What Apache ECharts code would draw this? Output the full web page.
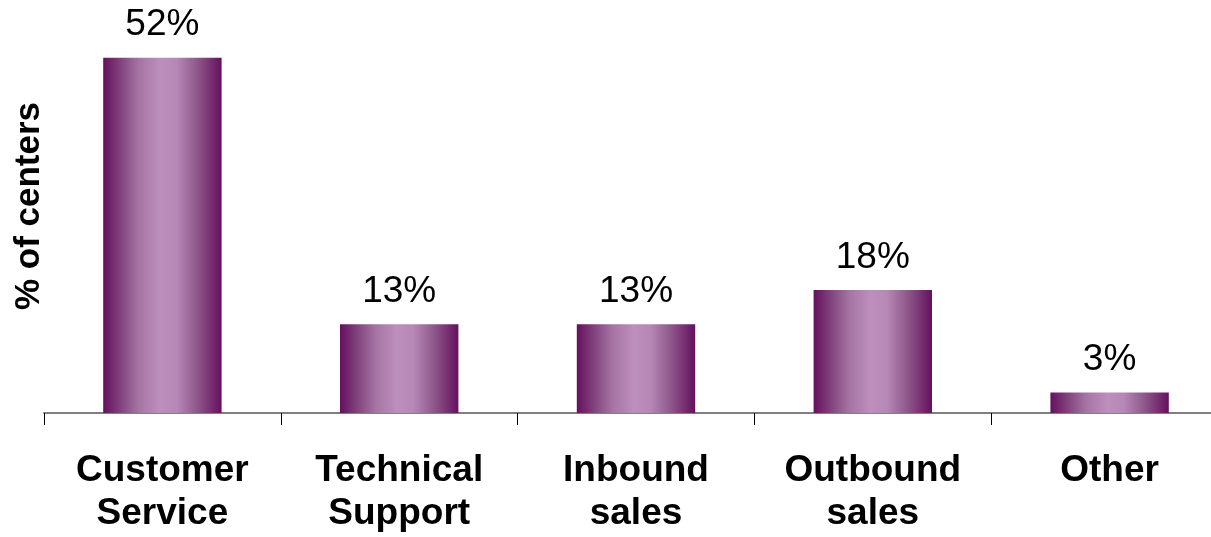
<!DOCTYPE html>
<html>
<head>
<meta charset="utf-8">
<style>
  html, body { margin: 0; padding: 0; background: #ffffff; overflow: hidden; }
  /* plot area runs a little past the right edge of the window */
  #chart { width: 1228px; height: 537px; }
</style>
<script src="https://cdn.jsdelivr.net/npm/echarts@6/dist/echarts.min.js"></script>
</head>
<body>
<div id="chart"></div>
<script>
// Call center types
const categories = ['Customer\nService', 'Technical\nSupport', 'Inbound\nsales', 'Outbound\nsales', 'Other'];
const shareOfCenters = [52, 13, 13, 18, 3];
const axisTitle = '% of centers';

const FONT = '"Liberation Sans", Arial, sans-serif';

// Horizontal shading across each bar: dark edges, light middle
const barFill = new echarts.graphic.LinearGradient(0, 0, 1, 0, [
  { offset: 0.00, color: '#65105f' },
  { offset: 0.12, color: '#7c3a77' },
  { offset: 0.30, color: '#a574a3' },
  { offset: 0.48, color: '#bd8fbd' },
  { offset: 0.62, color: '#b688b6' },
  { offset: 0.80, color: '#8d5689' },
  { offset: 1.00, color: '#65105f' }
]);

const chart = echarts.init(document.getElementById('chart'), null, { renderer: 'canvas' });

chart.setOption({
  animation: false,
  backgroundColor: '#ffffff',
  grid: { left: 44, right: 0, top: 3, bottom: 124, containLabel: false },
  xAxis: {
    type: 'category',
    data: categories,
    boundaryGap: true,
    axisLine: { show: true, lineStyle: { color: '#808080', width: 2 } },
    axisTick: { show: true, alignWithLabel: false, length: 12, lineStyle: { color: '#000000', width: 1 } },
    axisLabel: {
      interval: 0,
      margin: 36,
      color: '#000000',
      fontFamily: FONT,
      fontWeight: 'bold',
      fontSize: 37,
      lineHeight: 43
    }
  },
  yAxis: {
    type: 'value',
    min: 0,
    max: 60,
    show: false,
    splitLine: { show: false }
  },
  series: [{
    type: 'bar',
    data: shareOfCenters,
    barWidth: '50%',
    itemStyle: { color: barFill },
    label: {
      show: true,
      position: 'top',
      distance: 14,
      formatter: '{c}%',
      color: '#000000',
      fontFamily: FONT,
      fontSize: 37
    }
  }],
  graphic: [{
    type: 'text',
    x: 29,
    y: 206,
    rotation: Math.PI / 2,
    style: {
      text: axisTitle,
      fill: '#000000',
      font: 'bold 35px ' + FONT,
      align: 'center',
      verticalAlign: 'middle'
    }
  }]
});
</script>
</body>
</html>
